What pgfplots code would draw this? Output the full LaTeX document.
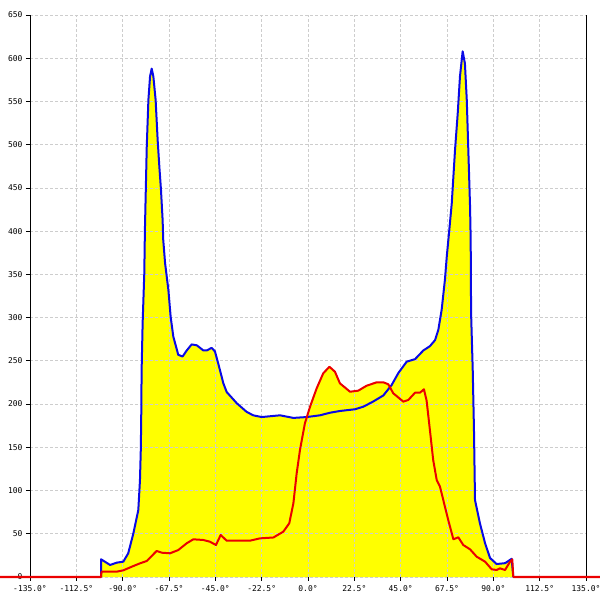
\documentclass[border=0pt]{standalone}
\usepackage{fontspec}
\setmainfont{DejaVu Sans Mono}
\usepackage{pgfplots}
\pgfplotsset{compat=1.18}

\definecolor{gridgray}{RGB}{205,205,205}
\definecolor{fillyellow}{RGB}{255,255,0}
\definecolor{lineblue}{RGB}{10,10,230}
\definecolor{linered}{RGB}{235,0,0}

\begin{document}
\begin{tikzpicture}
\begin{axis}[
  name=ax,
  set layers,
  scale only axis,
  width=556bp, height=562bp,
  xmin=-135, xmax=135,
  ymin=0, ymax=650,
  clip=false,
  separate axis lines,
  axis x line*=bottom,
  axis y line*=box,
  x axis line style={draw=none},
  ytick pos=left,
  tick align=outside,
  major tick length=4bp,
  tick style={black, line width=0.8bp},
  axis line style={black, line width=1bp},
  xtick={-135,-112.5,-90,-67.5,-45,-22.5,0,22.5,45,67.5,90,112.5,135},
  xticklabels={-135.0°,-112.5°,-90.0°,-67.5°,-45.0°,-22.5°,0.0°,22.5°,45.0°,67.5°,90.0°,112.5°,135.0°},
  ytick={0,50,100,150,200,250,300,350,400,450,500,550,600,650},
  yticklabels={0,50,100,150,200,250,300,350,400,450,500,550,600,650},
  tick label style={font=\fontsize{8}{10}\selectfont},
  xticklabel style={yshift=-1bp},
  grid=major,
  major grid style={gridgray, line width=0.8bp, dash pattern=on 2.5bp off 2.5bp},
]

% filled area under both curves
\addplot[draw=none, fill=fillyellow, on layer=axis background] coordinates {
(-100.5,0) (-100.5,20.5) (-96.1,13.9) (-92.9,16.6) (-89.7,17.7) (-87.3,27.4)
(-84.8,50.5) (-82.4,77.5) (-81.6,112) (-81.2,147) (-81.0,181) (-80.8,239)
(-80.3,294) (-79.5,351) (-79.2,401) (-78.3,498) (-77.5,552) (-76.7,579)
(-75.9,588) (-75.1,579) (-74.0,552) (-73.0,505) (-72.2,475) (-71.4,448)
(-70.6,413) (-70.3,390) (-69.4,363) (-67.8,332) (-66.7,301) (-65.4,278)
(-63.0,257) (-60.9,255) (-58.9,262) (-56.5,269) (-54.0,268) (-50.8,262)
(-49.2,262) (-46.8,265) (-45.2,261) (-43.6,247) (-41.1,224) (-39.5,214)
(-34.6,201) (-29.8,191) (-26.6,187) (-22.5,185) (-13.6,187) (-7.1,184)
(-0.6,185) (5.8,187) (10.7,190) (15.5,192) (22.8,194) (26.9,197)
(31.7,203) (36.6,210) (40.6,222) (43.9,236) (47.9,249) (52.0,252)
(56.0,262) (59.2,267) (61.7,274) (63.3,286) (64.9,309) (66.5,344)
(67.4,371) (68.6,401) (69.8,432) (71.4,494) (72.7,536) (73.8,579)
(75.1,608) (76.2,594) (77.1,552) (77.8,498) (78.7,428) (79.0,390)
(79.2,305) (80.0,239) (80.6,170) (81.1,89) (83.5,62) (86.0,39)
(88.4,22) (91.6,15) (95.7,16) (98.9,21) (99.7,0)
} \closedcycle;
\addplot[draw=none, fill=fillyellow, on layer=axis background] coordinates {
(-100.5,0) (-100.5,2.3) (-100.2,6.2) (-92.9,6.2) (-89.7,7.7) (-85.6,11.9)
(-81.6,15.8) (-78.3,18.5) (-75.9,24.3) (-73.5,30.1) (-71.0,28.1) (-67.0,27.4)
(-63.0,31.2) (-58.9,39.0) (-55.7,43.6) (-50.8,42.8) (-47.6,40.8) (-44.7,37.0)
(-42.4,48.6) (-39.5,42.0) (-28.2,42.0) (-23.3,44.7) (-16.8,45.7) (-12.0,52.4)
(-9.1,62.1) (-7.1,85.2) (-5.5,119.9) (-3.9,146.9) (-1.5,177.8) (1.0,197.0)
(4.2,218.2) (7.4,235.6) (10.4,243.2) (13.1,237.4) (15.5,224.0) (20.4,214.3)
(24.4,215.5) (28.5,221.3) (33.4,225.2) (36.6,225.2) (39.0,222.9) (41.4,212.5)
(46.3,202.8) (48.7,204.7) (52.0,213.2) (54.4,213.2) (56.3,217.1) (57.6,204)
(59.2,170) (60.8,135.3) (62.5,112.2) (64.1,104.4) (65.7,89) (68.1,65.9)
(70.6,43.6) (73.0,45.9) (75.4,37.0) (78.7,32.0) (81.9,23.5) (86.0,17.7)
(89.2,8.9) (91.6,8.1) (93.2,10) (95.7,8.1) (98.1,17.7) (99.2,20.4) (99.7,0)
} \closedcycle;

% blue curve
\addplot[lineblue, line width=2bp, line join=round] coordinates {
(-100.5,0) (-100.5,20.5) (-96.1,13.9) (-92.9,16.6) (-89.7,17.7) (-87.3,27.4)
(-84.8,50.5) (-82.4,77.5) (-81.6,112) (-81.2,147) (-81.0,181) (-80.8,239)
(-80.3,294) (-79.5,351) (-79.2,401) (-78.3,498) (-77.5,552) (-76.7,579)
(-75.9,588) (-75.1,579) (-74.0,552) (-73.0,505) (-72.2,475) (-71.4,448)
(-70.6,413) (-70.3,390) (-69.4,363) (-67.8,332) (-66.7,301) (-65.4,278)
(-63.0,257) (-60.9,255) (-58.9,262) (-56.5,269) (-54.0,268) (-50.8,262)
(-49.2,262) (-46.8,265) (-45.2,261) (-43.6,247) (-41.1,224) (-39.5,214)
(-34.6,201) (-29.8,191) (-26.6,187) (-22.5,185) (-13.6,187) (-7.1,184)
(-0.6,185) (5.8,187) (10.7,190) (15.5,192) (22.8,194) (26.9,197)
(31.7,203) (36.6,210) (40.6,222) (43.9,236) (47.9,249) (52.0,252)
(56.0,262) (59.2,267) (61.7,274) (63.3,286) (64.9,309) (66.5,344)
(67.4,371) (68.6,401) (69.8,432) (71.4,494) (72.7,536) (73.8,579)
(75.1,608) (76.2,594) (77.1,552) (77.8,498) (78.7,428) (79.0,390)
(79.2,305) (80.0,239) (80.6,170) (81.1,89) (83.5,62) (86.0,39)
(88.4,22) (91.6,15) (95.7,16) (98.9,21) (99.7,0)
};

% red curve
\addplot[linered, line width=2bp, line join=round] coordinates {
(-149.5,0)
(-100.5,0) (-100.5,2.3) (-100.2,6.2) (-92.9,6.2) (-89.7,7.7) (-85.6,11.9)
(-81.6,15.8) (-78.3,18.5) (-75.9,24.3) (-73.5,30.1) (-71.0,28.1) (-67.0,27.4)
(-63.0,31.2) (-58.9,39.0) (-55.7,43.6) (-50.8,42.8) (-47.6,40.8) (-44.7,37.0)
(-42.4,48.6) (-39.5,42.0) (-28.2,42.0) (-23.3,44.7) (-16.8,45.7) (-12.0,52.4)
(-9.1,62.1) (-7.1,85.2) (-5.5,119.9) (-3.9,146.9) (-1.5,177.8) (1.0,197.0)
(4.2,218.2) (7.4,235.6) (10.4,243.2) (13.1,237.4) (15.5,224.0) (20.4,214.3)
(24.4,215.5) (28.5,221.3) (33.4,225.2) (36.6,225.2) (39.0,222.9) (41.4,212.5)
(46.3,202.8) (48.7,204.7) (52.0,213.2) (54.4,213.2) (56.3,217.1) (57.6,204)
(59.2,170) (60.8,135.3) (62.5,112.2) (64.1,104.4) (65.7,89) (68.1,65.9)
(70.6,43.6) (73.0,45.9) (75.4,37.0) (78.7,32.0) (81.9,23.5) (86.0,17.7)
(89.2,8.9) (91.6,8.1) (93.2,10) (95.7,8.1) (98.1,17.7) (99.2,20.4) (99.7,0)
(141.7,0)
};
\end{axis}
\pgfresetboundingbox
\useasboundingbox ([shift={(-30bp,-23bp)}]ax.south west) rectangle ([shift={(570bp,577bp)}]ax.south west);
\end{tikzpicture}
\end{document}
